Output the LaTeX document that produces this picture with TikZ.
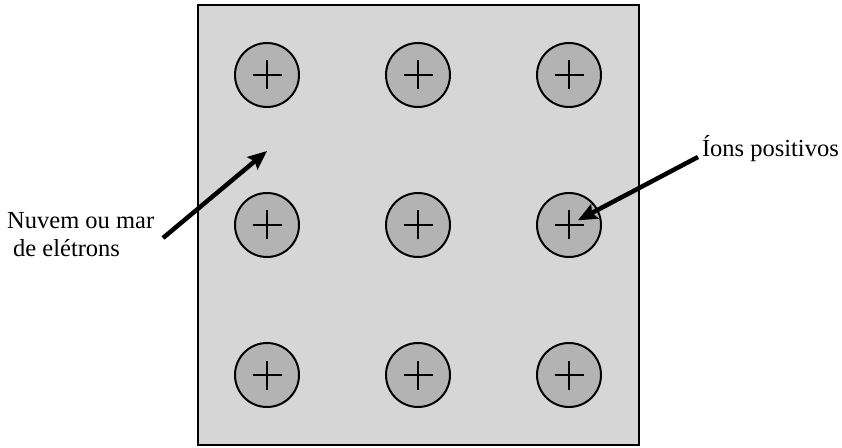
\documentclass[tikz,border=0pt]{standalone}
\usepackage{fontspec}
\setmainfont{Liberation Serif}
\usetikzlibrary{arrows.meta}
\definecolor{seagray}{HTML}{D6D6D6}
\definecolor{iongray}{HTML}{B3B3B3}
\begin{document}
\begin{tikzpicture}[x=1pt,y=1pt,
  ion/.style={circle,draw=black,line width=2pt,fill=iongray,minimum size=64pt,inner sep=0pt},
  plusmark/.style={line width=1.5pt},
  lbl/.style={inner sep=0pt,font=\fontsize{24.5}{28}\selectfont},
  pointer/.style={line width=4.5pt,-{Stealth[length=19pt,width=16pt,inset=3pt]}}]
\useasboundingbox (0,0) rectangle (842,447);
\node[draw=black,line width=2.2pt,fill=seagray,minimum width=441pt,minimum height=440pt,inner sep=0pt] (sea) at (418.5,222) {};
\foreach \c/\x in {1/267,2/418,3/569}{
  \foreach \r/\y in {1/372,2/222,3/72}{
    \node[ion] (c\r\c) at (\x,\y) {};
    \draw[plusmark] ([xshift=-14.5pt]c\r\c.center) -- ([xshift=14.5pt]c\r\c.center);
    \draw[plusmark] ([yshift=-14.5pt]c\r\c.center) -- ([yshift=14.5pt]c\r\c.center);
  }
}
\node[lbl,anchor=base west] (nuvem1) at (7,218) {Nuvem ou mar};
\node[lbl,anchor=base west] (nuvem2) at (13,190) {de elétrons};
\node[lbl,anchor=base east] (ions) at (839,290) {Íons positivos};
\coordinate (tailL) at (163,209);
\coordinate (tipL) at (267,296);
\coordinate (tailR) at (698,290);
\draw[pointer] (tailL) -- (tipL);
\draw[pointer,shorten >=10pt] (tailR) -- (c23.center);
\end{tikzpicture}
\end{document}
